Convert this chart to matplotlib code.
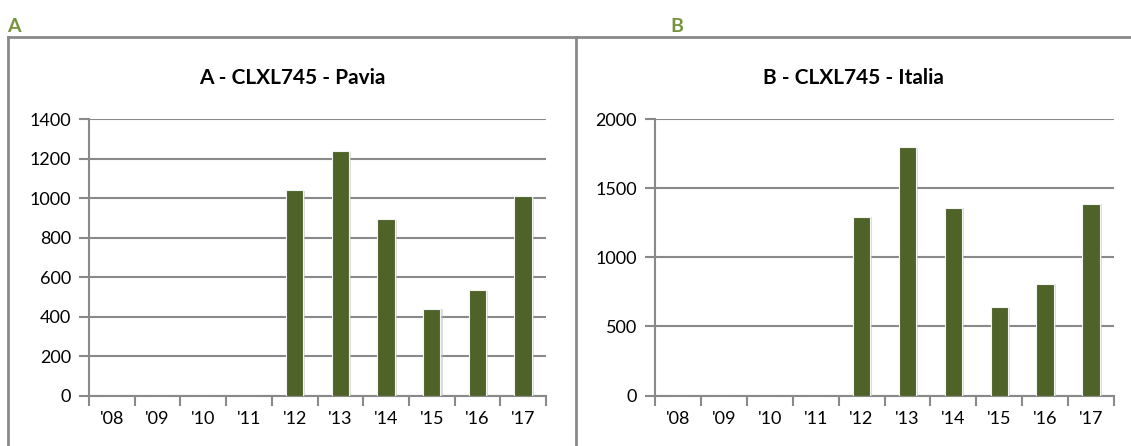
import matplotlib
matplotlib.use("Agg")
import matplotlib.pyplot as plt
import matplotlib.patheffects as pe
from matplotlib.lines import Line2D

# ---- data ----
years = ["'08", "'09", "'10", "'11", "'12", "'13", "'14", "'15", "'16", "'17"]
pavia = [0, 0, 0, 0, 1040, 1240, 895, 440, 535, 1010]
italia = [0, 0, 0, 0, 1295, 1800, 1360, 640, 810, 1390]
title_a = "A - CLXL745 - Pavia"
title_b = "B - CLXL745 - Italia"
yticks_a = [0, 200, 400, 600, 800, 1000, 1200, 1400]
yticks_b = [0, 500, 1000, 1500, 2000]

W, H = 1131, 446
fig = plt.figure(figsize=(W / 100, H / 100), dpi=100)
fig.patch.set_facecolor("white")

FONT = "Lato"
GRID = "#898989"
BAR = "#4F6228"
GREEN = "#77933C"
TICKFS = 13


def px_axes(x0, x1, ytop, ybot):
    return fig.add_axes([x0 / W, (H - ybot) / H, (x1 - x0) / W, (ybot - ytop) / H])


def draw_panel(ax, vals, yticks, ymax):
    x = list(range(len(years)))
    bars = ax.bar(x, vals, width=0.38, color=BAR, edgecolor="#f4f4f4",
                  linewidth=0.8, zorder=3)
    for b in bars:
        b.set_path_effects([pe.SimplePatchShadow(offset=(1.5, -0.5),
                                                 shadow_rgbFace="#bfbfbf", alpha=0.55),
                            pe.Normal()])
    ax.set_xlim(-0.5, len(years) - 0.5)
    ax.set_ylim(0, ymax)
    ax.set_yticks(yticks)
    ax.set_yticklabels([str(v) for v in yticks], fontfamily=FONT, fontsize=TICKFS)
    ax.set_xticks(x)
    ax.set_xticklabels(years, fontfamily=FONT, fontsize=TICKFS)
    ax.set_xticks([i - 0.5 for i in range(len(years) + 1)], minor=True)
    ax.tick_params(axis="x", which="major", length=0, pad=11, colors="black")
    ax.tick_params(axis="x", which="minor", length=7, width=1.5, color=GRID)
    ax.tick_params(axis="y", length=7, width=1.5, color=GRID, pad=6)
    ax.grid(axis="y", color=GRID, linewidth=1.5, zorder=0)
    ax.set_axisbelow(True)
    for s in ["top", "right"]:
        ax.spines[s].set_visible(False)
    for s in ["left", "bottom"]:
        ax.spines[s].set_color(GRID)
        ax.spines[s].set_linewidth(1.5)
    ax.set_facecolor("none")


axA = px_axes(89, 546, 119.3, 395.5)
draw_panel(axA, pavia, yticks_a, 1400)
axB = px_axes(655, 1114, 119.3, 395.5)
draw_panel(axB, italia, yticks_b, 2000)

# titles
fig.text(292 / W, 1 - 78 / H, title_a, ha="center", va="center",
         fontfamily=FONT, fontweight="bold", fontsize=15)
fig.text(853 / W, 1 - 78 / H, title_b, ha="center", va="center",
         fontfamily=FONT, fontweight="bold", fontsize=15)

# panel letters
fig.text(14 / W, 1 - 26 / H, "A", ha="center", va="center", color=GREEN,
         fontfamily=FONT, fontweight="bold", fontsize=14)
fig.text(677 / W, 1 - 26 / H, "B", ha="center", va="center", color=GREEN,
         fontfamily=FONT, fontweight="bold", fontsize=14)

# panel borders
def fline(xs, ys):
    fig.add_artist(Line2D([v / W for v in xs], [1 - v / H for v in ys],
                          color="#8a8a8a", linewidth=2))

fline([8, 1131], [37, 37])
fline([8, 8], [37, 446])
fline([576, 576], [37, 446])

fig.savefig("out.png", dpi=100, facecolor="white")
